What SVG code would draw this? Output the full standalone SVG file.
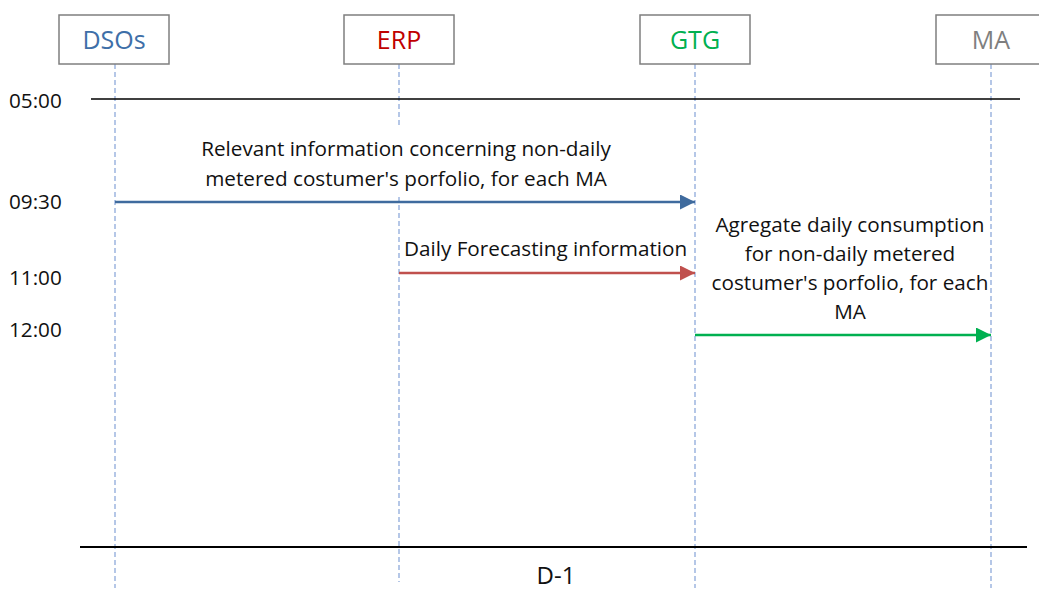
<svg xmlns="http://www.w3.org/2000/svg" width="1039" height="590" viewBox="0 0 1039 590">
<style>
.box{fill:#fff;stroke:#7f7f7f;stroke-width:1.5}
.lbl{font-family:"Open Sans","Liberation Sans",sans-serif;font-size:25px;text-anchor:middle}
.life{stroke:#8eaadb;stroke-width:1.3;stroke-dasharray:5 3;fill:none}
.t{font-family:"Open Sans","Liberation Sans",sans-serif;font-size:20.7px;fill:#111}
.tm{text-anchor:middle}
.d1{font-size:24px}
.axis{stroke:#000;fill:none}
</style>
<defs>
<marker id="ab" viewBox="0 0 10 10" refX="10" refY="5" markerWidth="17" markerHeight="15" markerUnits="userSpaceOnUse" orient="auto"><path d="M0,0 L10,5 L0,10 z" fill="#3f6b9e"/></marker>
<marker id="ar" viewBox="0 0 10 10" refX="10" refY="5" markerWidth="17" markerHeight="15" markerUnits="userSpaceOnUse" orient="auto"><path d="M0,0 L10,5 L0,10 z" fill="#c0504d"/></marker>
<marker id="ag" viewBox="0 0 10 10" refX="10" refY="5" markerWidth="17" markerHeight="15" markerUnits="userSpaceOnUse" orient="auto"><path d="M0,0 L10,5 L0,10 z" fill="#00b050"/></marker>
</defs>
<rect width="1039" height="590" fill="#fff"/>
<g id="lifelines">
<line class="life" x1="115" y1="64" x2="115" y2="588"/>
<line class="life" x1="399" y1="64" x2="399" y2="126"/>
<line class="life" x1="399" y1="197" x2="399" y2="582"/>
<line class="life" x1="695" y1="64" x2="695" y2="588"/>
<line class="life" x1="991" y1="64" x2="991" y2="588"/>
</g>
<g id="node-dsos"><rect class="box" x="59" y="15" width="110" height="49"/><text class="lbl" x="114" y="49" fill="#3e6fa8">DSOs</text></g>
<g id="node-erp"><rect class="box" x="344" y="15" width="110" height="49"/><text class="lbl" x="399" y="49" fill="#c00000">ERP</text></g>
<g id="node-gtg"><rect class="box" x="640" y="15" width="110" height="49"/><text class="lbl" x="695" y="49" fill="#00b050">GTG</text></g>
<g id="node-ma"><rect class="box" x="936" y="15" width="110" height="49"/><text class="lbl" x="991" y="49" fill="#7f7f7f">MA</text></g>
<g id="timeline">
<line class="axis" x1="91" y1="99" x2="1020" y2="99" stroke-width="1.3"/>
<line class="axis" x1="80" y1="547" x2="1027" y2="547" stroke-width="2"/>
<text class="t" x="9" y="108">05:00</text>
<text class="t" x="9" y="209">09:30</text>
<text class="t" x="9" y="285">11:00</text>
<text class="t" x="9" y="337">12:00</text>
<text class="t tm d1" x="556" y="584">D-1</text>
</g>
<g id="connectors">
<line x1="115" y1="202" x2="695" y2="202" stroke="#3f6b9e" stroke-width="2.5" marker-end="url(#ab)"/>
<line x1="399" y1="273" x2="695" y2="273" stroke="#c0504d" stroke-width="2.5" marker-end="url(#ar)"/>
<line x1="695" y1="335" x2="991" y2="335" stroke="#00b050" stroke-width="2.5" marker-end="url(#ag)"/>
<text class="t tm" x="406" y="156">Relevant information concerning non-daily</text>
<text class="t tm" x="406" y="186">metered costumer's porfolio, for each MA</text>
<text class="t" x="404" y="256">Daily Forecasting information</text>
<text class="t tm" x="850" y="232">Agregate daily consumption</text>
<text class="t tm" x="850" y="261">for non-daily metered</text>
<text class="t tm" x="850" y="290">costumer's porfolio, for each</text>
<text class="t tm" x="850" y="319">MA</text>
</g>
</svg>
